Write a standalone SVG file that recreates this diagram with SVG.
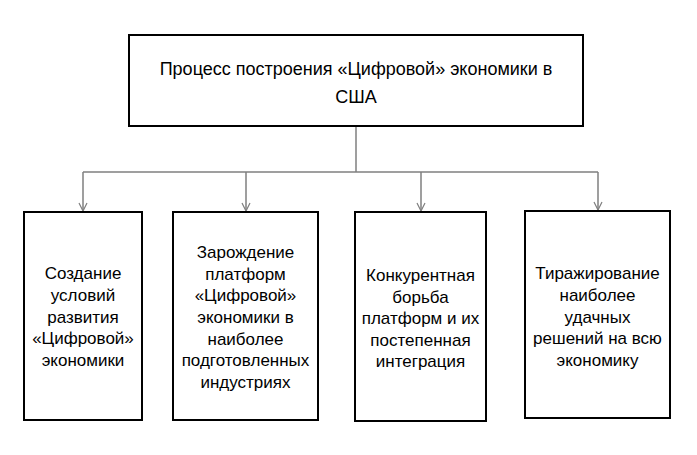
<svg xmlns="http://www.w3.org/2000/svg" width="697" height="455" viewBox="0 0 697 455">
<defs>
<marker id="arr" viewBox="0 0 10 10" refX="9" refY="5" markerWidth="10" markerHeight="10" markerUnits="userSpaceOnUse" orient="auto">
<path d="M1,1 L9,5 L1,9" fill="none" stroke="#7f7f7f" stroke-width="1.2"/>
</marker>
<style>
.box{fill:#fff;stroke:#000;stroke-width:2}
.t{font-family:"Liberation Sans",Arial,sans-serif;font-size:17px;fill:#000;text-anchor:middle}
.tt{font-family:"Liberation Sans",Arial,sans-serif;font-size:18px;fill:#000;text-anchor:middle}
.c{fill:none;stroke:#7f7f7f;stroke-width:1.5}
</style>
</defs>
<rect width="697" height="455" fill="#fff"/>
<g id="connectors">
<path class="c" d="M356,127 V172"/>
<path class="c" d="M83,172 H598"/>
<path class="c" d="M83,172 V211" marker-end="url(#arr)"/>
<path class="c" d="M246,172 V211" marker-end="url(#arr)"/>
<path class="c" d="M421,172 V211" marker-end="url(#arr)"/>
<path class="c" d="M598,172 V210" marker-end="url(#arr)"/>
</g>
<g id="top">
<rect class="box" x="129" y="35" width="454" height="91"/>
<text class="tt" x="356" y="75">Процесс построения «Цифровой» экономики в</text>
<text class="tt" x="356" y="103">США</text>
</g>
<g id="n1">
<rect class="box" x="24" y="212" width="118" height="208"/>
<text class="t" x="83" y="279">Создание</text>
<text class="t" x="83" y="301">условий</text>
<text class="t" x="83" y="323">развития</text>
<text class="t" x="83" y="344">«Цифровой»</text>
<text class="t" x="83" y="366">экономики</text>
</g>
<g id="n2">
<rect class="box" x="173" y="212" width="145" height="208"/>
<text class="t" x="245.5" y="258">Зарождение</text>
<text class="t" x="245.5" y="280">платформ</text>
<text class="t" x="245.5" y="301">«Цифровой»</text>
<text class="t" x="245.5" y="323">экономики в</text>
<text class="t" x="245.5" y="345">наиболее</text>
<text class="t" x="245.5" y="366">подготовленных</text>
<text class="t" x="245.5" y="388">индустриях</text>
</g>
<g id="n3">
<rect class="box" x="355" y="212" width="131" height="209"/>
<text class="t" x="420.5" y="281">Конкурентная</text>
<text class="t" x="420.5" y="303">борьба</text>
<text class="t" x="420.5" y="324">платформ и их</text>
<text class="t" x="420.5" y="346">постепенная</text>
<text class="t" x="420.5" y="367">интеграция</text>
</g>
<g id="n4">
<rect class="box" x="525" y="211" width="145" height="207"/>
<text class="t" x="597.5" y="279">Тиражирование</text>
<text class="t" x="597.5" y="301">наиболее</text>
<text class="t" x="597.5" y="323">удачных</text>
<text class="t" x="597.5" y="344">решений на всю</text>
<text class="t" x="597.5" y="366">экономику</text>
</g>
</svg>
